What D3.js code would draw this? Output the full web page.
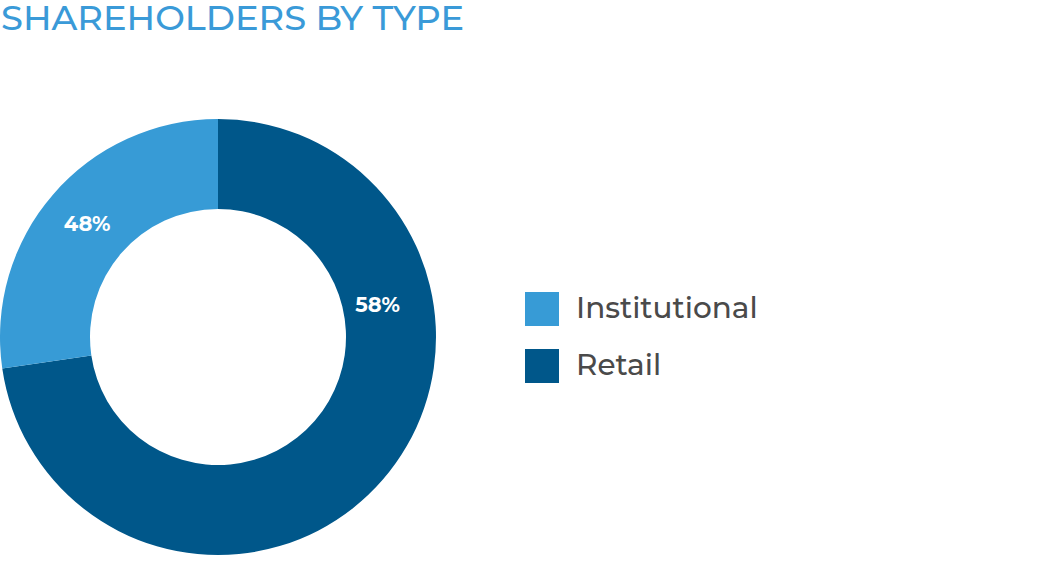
<!DOCTYPE html>
<html><head><meta charset="utf-8">
<script src="https://cdn.jsdelivr.net/npm/d3@7"></script>
<style>html,body{margin:0;padding:0;background:#fff;}svg{display:block;}</style>
</head><body>
<svg id="c" width="1049" height="570"></svg>
<script>
const categories = ["Retail", "Institutional"];
const values = [72.7, 27.3];
const valueLabels = ["58%", "48%"];
const legendOrder = ["Institutional", "Retail"];
const colors = {"Institutional": "#379bd6", "Retail": "#00578a"};

const svg = d3.select("#c");
const cx = 218, cy = 337, R = 218, r = 128;

svg.append("text").attr("x", 1).attr("y", 29.5)
  .attr("font-family", "Montserrat, 'Open Sans', sans-serif")
  .attr("font-size", 34).attr("font-weight", 500).attr("fill", "#3a9ad8")
  .attr("textLength", 463).attr("lengthAdjust", "spacingAndGlyphs")
  .text("SHAREHOLDERS BY TYPE");

const pie = d3.pie().sort(null).value(d => d.v);
const data = pie(categories.map((c, i) => ({c, v: values[i], l: valueLabels[i]})));
const arc = d3.arc().innerRadius(r).outerRadius(R);
const g = svg.append("g").attr("transform", `translate(${cx},${cy})`);
g.selectAll("path").data(data).join("path")
  .attr("d", arc).attr("fill", d => colors[d.data.c]);

const labelArc = d3.arc().innerRadius(r).outerRadius(R);
g.selectAll("text").data(data).join("text")
  .attr("transform", d => {
    let p;
    if (d.data.c === "Retail") {
      const a = 78.3 * Math.PI / 180, rr = 163;
      p = [rr * Math.sin(a), -rr * Math.cos(a)];
    } else p = labelArc.centroid(d);
    return `translate(${p[0]},${p[1]})`;
  })
  .attr("text-anchor", "middle").attr("dy", "0.36em")
  .attr("font-family", "Montserrat, 'Open Sans', sans-serif")
  .attr("font-weight", "bold").attr("font-size", 21).attr("fill", "#fff")
  .text(d => d.data.l);

const lg = svg.append("g");
const ly = d3.scaleBand().domain(legendOrder).range([292, 406]).paddingInner(0);
legendOrder.forEach(name => {
  const y = ly(name);
  lg.append("rect").attr("x", 525).attr("y", y).attr("width", 34).attr("height", 34)
    .attr("fill", colors[name]);
  lg.append("text").attr("x", 576).attr("y", y + 25.5)
    .attr("font-family", "Montserrat, 'Open Sans', sans-serif")
    .attr("font-size", 29.5).attr("font-weight", 500).attr("fill", "#4a4a4a").text(name);
});
</script>
</body></html>
